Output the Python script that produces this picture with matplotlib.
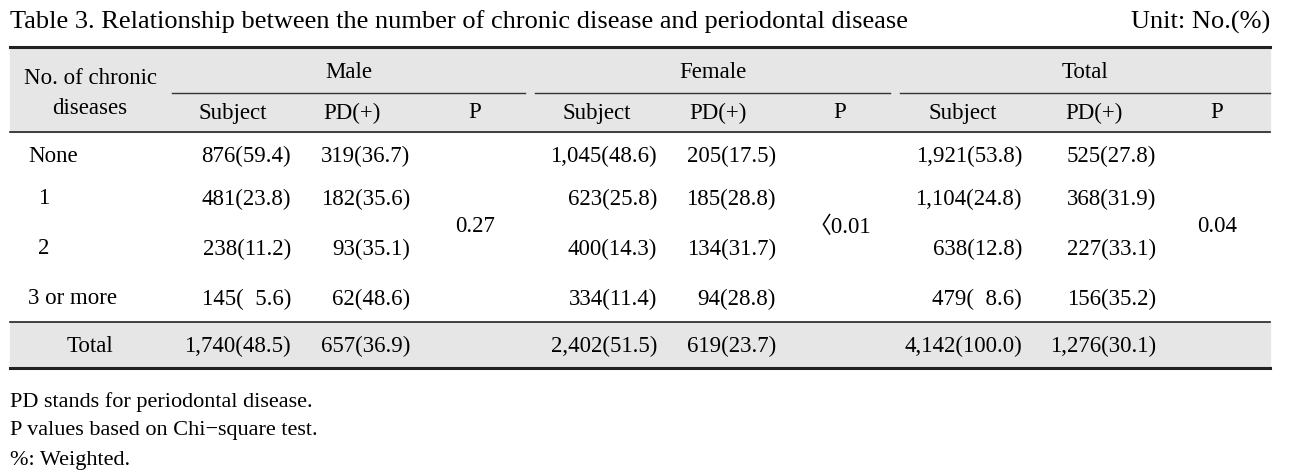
import matplotlib.pyplot as plt
from matplotlib.patches import Rectangle

# 数据
categories = ["None", "1", "2", "3 or more"]
male_subject = [876, 481, 238, 145]
male_subject_pct = [59.4, 23.8, 11.2, 5.6]
male_pd = [319, 182, 93, 62]
male_pd_pct = [36.7, 35.6, 35.1, 48.6]
female_subject = [1045, 623, 400, 334]
female_subject_pct = [48.6, 25.8, 14.3, 11.4]
female_pd = [205, 185, 134, 94]
female_pd_pct = [17.5, 28.8, 31.7, 28.8]
total_subject = [1921, 1104, 638, 479]
total_subject_pct = [53.8, 24.8, 12.8, 8.6]
total_pd = [525, 368, 227, 156]
total_pd_pct = [27.8, 31.9, 33.1, 35.2]

totals_subject = [1740, 2402, 4142]
totals_subject_pct = [48.5, 51.5, 100.0]
totals_pd = [657, 619, 1276]
totals_pd_pct = [36.9, 23.7, 30.1]
p_values = ["0.27", "〈0.01", "0.04"]
groups = ["Male", "Female", "Total"]

notes = ["PD stands for periodontal disease.",
         "P values based on Chi\u2212square test.",
         "%: Weighted."]

FONT = ["Liberation Serif", "Noto Sans CJK KR", "DejaVu Sans"]
FS = 16.5


def fmt(n, pct):
    p = "{:.1f}".format(pct)
    if pct < 10:
        p = "  " + p
    return "{:,}({})".format(n, p)


fig = plt.figure(figsize=(12.91, 4.76), dpi=100)
ax = fig.add_axes([0, 0, 1, 1])
ax.set_xlim(0, 1291)
ax.set_ylim(476, 0)
ax.axis("off")

# 标题
ax.text(10, 22, "Table 3. Relationship between the number of chronic disease and periodontal disease",
        fontsize=19, family=FONT, ha="left", va="center")
ax.text(1270, 22, "Unit: No.(%)", fontsize=19, family=FONT, ha="right", va="center")

# 背景
ax.add_patch(Rectangle((10, 47), 1260, 85, color="#e6e6e6", zorder=0))
ax.add_patch(Rectangle((10, 322), 1260, 46, color="#e6e6e6", zorder=0))

# 横线
ax.plot([10, 1270], [47, 47], color="#222222", lw=2.2)
ax.plot([10, 1270], [132, 132], color="#222222", lw=1.2)
ax.plot([10, 1270], [322, 322], color="#222222", lw=1.2)
ax.plot([10, 1270], [368, 368], color="#222222", lw=2.2)

# 表头
ax.text(90, 78, "No. of chronic", fontsize=FS, family=FONT, ha="center", va="center")
ax.text(90, 108, "diseases", fontsize=FS, family=FONT, ha="center", va="center")

group_spans = [(172, 525), (535, 890), (900, 1270)]
sub_x = [(233, 352, 475), (597, 718, 840), (963, 1094, 1217)]
for g, (a, b), xs in zip(groups, group_spans, sub_x):
    ax.text((a + b) / 2, 73, g, fontsize=FS, family=FONT, ha="center", va="center")
    ax.plot([a, b], [93, 93], color="#333333", lw=1.0)
    for lab, x in zip(["Subject", "PD(+)", "P"], xs):
        ax.text(x, 113, lab, fontsize=FS, family=FONT, ha="center", va="center")

# 数据行
row_y = [156, 199, 249, 299]
label_x = [28, 44, 44, 28]
label_ha = ["left", "center", "center", "left"]
subj_right = [291, 657, 1022]
pd_right = [410, 776, 1156]
cols = [(male_subject, male_subject_pct, male_pd, male_pd_pct),
        (female_subject, female_subject_pct, female_pd, female_pd_pct),
        (total_subject, total_subject_pct, total_pd, total_pd_pct)]

for i, cat in enumerate(categories):
    y = row_y[i]
    ax.text(label_x[i], y, cat, fontsize=FS, family=FONT, ha=label_ha[i], va="center")
    for g, (s, sp, d, dp) in enumerate(cols):
        ax.text(subj_right[g], y, fmt(s[i], sp[i]), fontsize=FS, family=FONT, ha="right", va="center")
        ax.text(pd_right[g], y, fmt(d[i], dp[i]), fontsize=FS, family=FONT, ha="right", va="center")

for g in range(3):
    ax.text(sub_x[g][2], 227, p_values[g], fontsize=FS, family=FONT, ha="center", va="center")

# 合计
ax.text(90, 346, "Total", fontsize=FS, family=FONT, ha="center", va="center")
for g in range(3):
    ax.text(subj_right[g], 346, fmt(totals_subject[g], totals_subject_pct[g]),
            fontsize=FS, family=FONT, ha="right", va="center")
    ax.text(pd_right[g], 346, fmt(totals_pd[g], totals_pd_pct[g]),
            fontsize=FS, family=FONT, ha="right", va="center")

# 注释
for j, n in enumerate(notes):
    ax.text(10, 402 + j * 29, n, fontsize=16, family=FONT, ha="left", va="center")

plt.savefig("out.png", dpi=100)
